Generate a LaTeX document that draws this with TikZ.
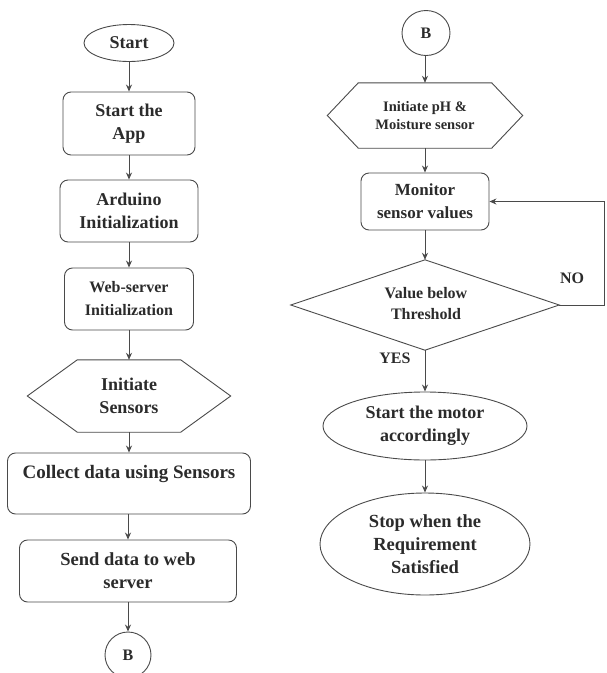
\documentclass[tikz,border=0pt]{standalone}
\usepackage{fontspec}
\setmainfont{Liberation Serif}
\usetikzlibrary{arrows.meta,shapes.geometric}
\definecolor{ln}{HTML}{4A4A4A}
\definecolor{tx}{HTML}{2B2B2B}
\newcommand{\fsz}[1]{\fontsize{#1}{23}\selectfont}
\newcommand{\fszb}[2]{\fontsize{#1}{#2}\selectfont}
\tikzset{
 base/.style={draw=ln, line width=0.9pt, inner sep=0pt, align=center, text=tx},
 rbox/.style={base, rectangle, rounded corners=8pt},
 oval/.style={base, ellipse},
 holder/.style={rectangle, inner sep=0pt, align=center, text=tx},
 plain/.style={inner sep=0pt, align=center, text=tx},
 arr/.style={draw=ln, line width=0.9pt, -{Stealth[length=7pt,width=6pt]}},
 shp/.style={draw=ln, line width=0.9pt},
}
\begin{document}
\begin{tikzpicture}[x=1pt,y=-1pt]
\useasboundingbox (0,0) rectangle (606,673);
% ---------- left column ----------
\node[oval, minimum width=90, minimum height=37, font=\fsz{18}\bfseries] (start) at (129,43) {Start};
\node[rbox, minimum width=132, minimum height=63, font=\fsz{18}\bfseries] (app) at (129,123.5) {Start the\\App};
\node[rbox, minimum width=138, minimum height=62, font=\fsz{18}\bfseries] (ard) at (129,211) {Arduino\\Initialization};
\node[rbox, minimum width=129, minimum height=62, font=\fsz{16}\bfseries] (web) at (129,299) {Web-server\\Initialization};
\node[holder, minimum width=203, minimum height=72, font=\fsz{18}\bfseries] (h1) at (129,396) {Initiate\\Sensors};
\draw[shp] (h1.west) -- ([xshift=50]h1.north west) -- ([xshift=-50]h1.north east) -- (h1.east) -- ([xshift=-50]h1.south east) -- ([xshift=50]h1.south west) -- cycle;
\node[rbox, minimum width=243, minimum height=61, font=\fsz{19}\bfseries] (col) at (129,483.5) {Collect data using Sensors\\\mbox{}};
\node[rbox, minimum width=217, minimum height=62, font=\fsz{18.5}\bfseries] (send) at (128,571) {Send data to web\\server};
\node[oval, minimum width=46, minimum height=46, font=\fsz{16}\bfseries] (b1) at (128,655) {B};
\draw[arr] (start) -- (app);
\draw[arr] (app) -- (ard);
\draw[arr] (ard) -- (web);
\draw[arr] (web) -- (h1);
\draw[arr] (h1.south) -- (col.north -| h1.south);
\draw[arr] (col.south -| send.north) -- (send);
\draw[arr] (send) -- (b1);
% ---------- right column ----------
\node[oval, minimum width=48, minimum height=45, font=\fsz{16}\bfseries] (b2) at (426,33) {B};
\node[holder, minimum width=195, minimum height=65, font=\fszb{14.5}{18}\bfseries] (h2) at (425,115.5) {Initiate pH \&\\Moisture sensor};
\draw[shp] (h2.west) -- ([xshift=31]h2.north west) -- ([xshift=-31]h2.north east) -- (h2.east) -- ([xshift=-31]h2.south east) -- ([xshift=31]h2.south west) -- cycle;
\node[rbox, minimum width=128, minimum height=57, font=\fsz{17}\bfseries] (mon) at (425,201.5) {Monitor\\sensor values};
\node[holder, minimum width=268, minimum height=90] (d) at (425,305) {};
\draw[shp] (d.north) -- (d.east) -- (d.south) -- (d.west) -- cycle;
\node[plain, font=\fszb{16}{21}\bfseries] (dt) at (426,304) {Value below\\Threshold};
\node[oval, minimum width=204, minimum height=68, font=\fsz{18}\bfseries] (mot) at (425,426) {Start the motor\\accordingly};
\node[oval, minimum width=210, minimum height=102, font=\fsz{18.5}\bfseries] (stop) at (425,544) {Stop when the\\Requirement\\Satisfied};
\node[plain, font=\fsz{16}\bfseries] (no) at (572,278) {NO};
\node[plain, font=\fsz{16}\bfseries] (yes) at (395,358) {YES};
\draw[arr] (b2.south -| h2.north) -- (h2.north);
\draw[arr] (h2) -- (mon);
\draw[arr] (mon) -- (d.north);
\draw[arr] (d.south) -- (mot);
\draw[arr] (mot) -- (stop);
\draw[arr] (d.east) -- ++(45,0) |- (mon.east);
\end{tikzpicture}
\end{document}
